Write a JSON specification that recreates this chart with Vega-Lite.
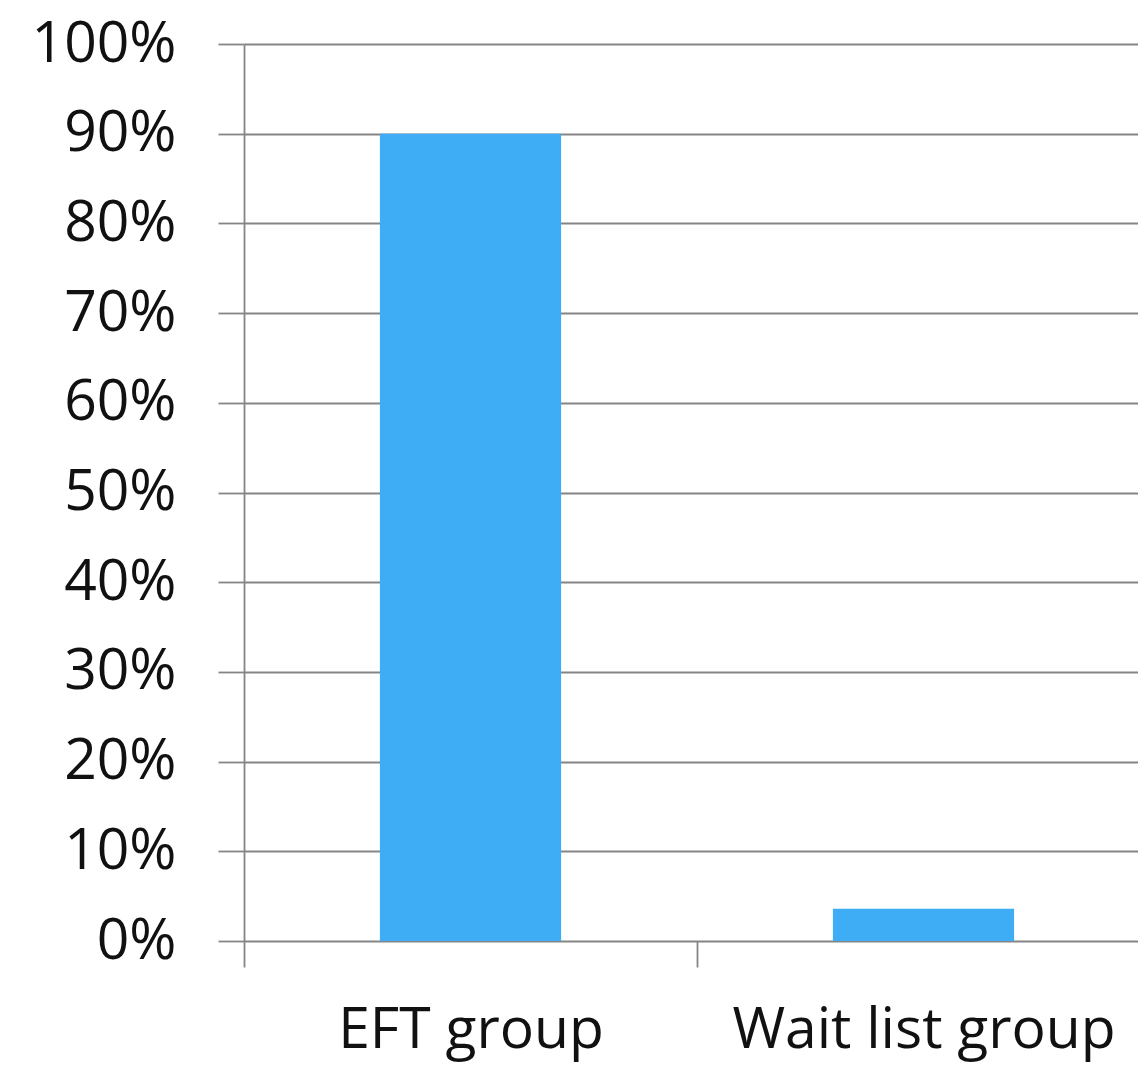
{
  "$schema": "https://vega.github.io/schema/vega-lite/v6.json",
  "autosize": {"type": "none"},
  "padding": {"left": 244, "right": 0, "top": 44, "bottom": 125},
  "width": 894,
  "height": 897,
  "background": "white",
  "config": {
    "view": {"stroke": null},
    "font": "Open Sans",
    "axis": {"labelFont": "Open Sans", "labelColor": "#111111", "labelFontSize": 57, "labelLimit": 0, "title": null}
  },
  "data": {
    "values": [
      {"group": "EFT group", "pct": 0.90},
      {"group": "Wait list group", "pct": 0.036}
    ]
  },
  "mark": {"type": "bar", "color": "#3FADF6", "width": {"band": 0.4}},
  "encoding": {
    "x": {
      "field": "group",
      "type": "nominal",
      "sort": null,
      "scale": {"range": [0, 906], "paddingInner": 0, "paddingOuter": 0},
      "axis": {
        "labelAngle": 0,
        "tickBand": "extent",
        "tickSize": 26,
        "tickColor": "#858585",
        "tickWidth": 1.8,
        "domain": false,
        "labelPadding": 35,
        "labelBaseline": "top",
        "labelOverlap": false
      }
    },
    "y": {
      "field": "pct",
      "type": "quantitative",
      "scale": {"domain": [0, 1], "nice": false},
      "axis": {
        "format": ".0%",
        "values": [0, 0.1, 0.2, 0.3, 0.4, 0.5, 0.6, 0.7, 0.8, 0.9, 1.0],
        "tickSize": 26,
        "tickColor": "#858585",
        "tickWidth": 1.8,
        "grid": true,
        "gridColor": "#858585",
        "gridWidth": 1.8,
        "domainColor": "#858585",
        "domainWidth": 1.8,
        "labelPadding": 42
      }
    }
  }
}
